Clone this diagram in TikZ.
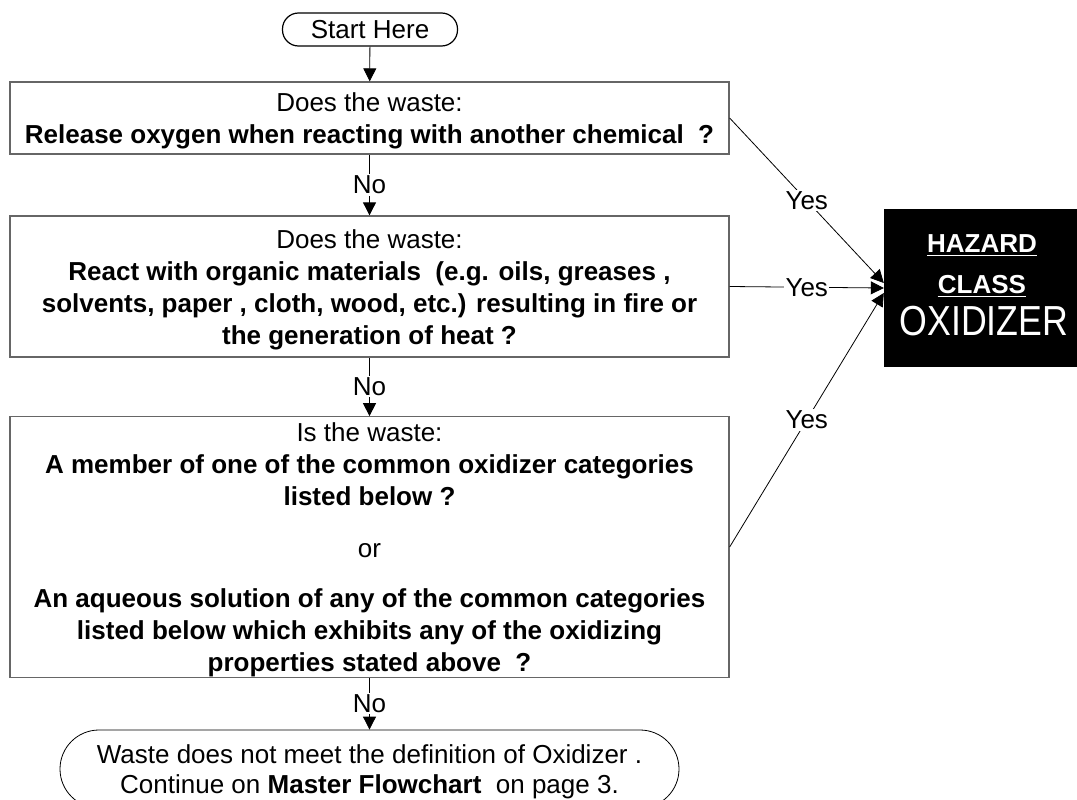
\documentclass[tikz,border=0pt]{standalone}
\usepackage{fontspec}
\usepackage{graphicx}
\setmainfont{Liberation Sans}
\newfontfamily\plainfont{Liberation Sans}
\usetikzlibrary{arrows.meta}
\newcommand\topstrut{\rule{0pt}{25pt}}
\begin{document}
\begin{tikzpicture}[x=1pt,y=-1pt,
  box/.style={draw=black!60, line width=1.3pt, minimum width=719pt, align=center, inner sep=0pt, font=\fontsize{26}{32}\selectfont},
  pill/.style={draw=black, line width=1.2pt, rounded corners=16pt, minimum width=175pt, minimum height=33pt, inner sep=0pt, font=\fontsize{26}{26}\selectfont},
  term/.style={draw=black, line width=0.8pt, rounded corners=39pt, minimum width=619pt, minimum height=78pt, align=center, inner sep=0pt, font=\fontsize{26}{30}\selectfont},
  hzbox/.style={fill=black, minimum width=193pt, minimum height=158pt, inner sep=0pt},
  hztext/.style={text=white, inner sep=0pt, anchor=base, font=\fontsize{26}{26}\selectfont\bfseries},
  conn/.style={line width=0.8pt, -{Triangle[length=13pt,width=13pt]}},
  lbl/.style={fill=white, inner sep=1.5pt, font=\fontsize{26}{26}\selectfont}
]
\useasboundingbox (0,0) rectangle (1077,800);
\clip (0,0) rectangle (1077,800);

\node[pill] (start) at (370,29.5) {Start Here};

\node[box, minimum height=72pt] (b1) at (369.5,118)
  {\topstrut Does the waste:\\\textbf{Release oxygen when reacting with another chemical\ \ ?}};

\node[box, minimum height=141pt] (b2) at (369.5,286.5)
  {\topstrut Does the waste:\\
   \textbf{React with organic materials\ \ (e.g. oils, greases ,}\\
   \textbf{solvents, paper , cloth, wood, etc.) resulting in fire or}\\
   \textbf{the generation of heat ?}};

\node[box, minimum height=258pt] (b3) at (369.5,547)
  {\topstrut Is the waste:\\
   \textbf{A member of one of the common oxidizer categories}\\
   \textbf{listed below ?}\\[20pt]
   or\\[18pt]
   \textbf{An aqueous solution of any of the common categories}\\
   \textbf{listed below which exhibits any of the oxidizing}\\
   \textbf{properties stated above\ \ ?}};

\node[term] (end) at (369.5,769)
  {\rule{0pt}{24pt}Waste does not meet the definition of Oxidizer .\\
   Continue on \textbf{Master Flowchart}\ \ on page 3.};

\node[hzbox] (hz) at (980.5,288) {};
\node[hztext] (hz1) at (982,252) {HAZARD};
\node[hztext] (hz2) at (982,293) {CLASS};
\node[text=white, inner sep=0pt, anchor=base] (hz3) at (984,335)
  {\scalebox{0.85}[1]{\plainfont\fontsize{42}{42}\selectfont OXIDIZER}};
\draw[white, line width=1.8pt] ([yshift=-3.5pt]hz1.base west) -- ([yshift=-3.5pt]hz1.base east);
\draw[white, line width=1.8pt] ([yshift=-3.5pt]hz2.base west) -- ([yshift=-3.5pt]hz2.base east);

\draw[conn] (start) -- (b1);
\draw[conn] (b1) -- node[lbl] {No} (b2);
\draw[conn] (b2) -- node[lbl] {No} (b3);
\draw[conn] (b3) -- node[lbl] {No} (end);

\draw[conn] (b1.east) -- node[lbl] {Yes} ([yshift=5pt]hz.west);
\draw[conn] (b2.east) -- node[lbl] {Yes} (hz.west);
\draw[conn] (b3.east) -- node[lbl] {Yes} ([yshift=-5pt]hz.west);
\end{tikzpicture}
\end{document}
